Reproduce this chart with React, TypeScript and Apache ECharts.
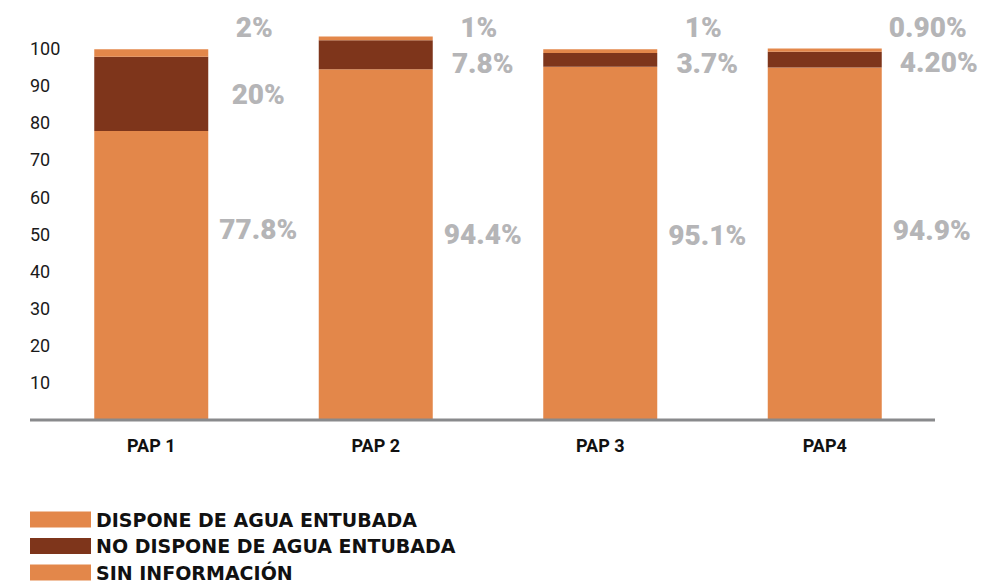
import React, { useEffect, useRef } from "react";
import * as echarts from "echarts";

const categories = ["PAP 1", "PAP 2", "PAP 3", "PAP4"];
const seriesNames = [
  "DISPONE DE AGUA ENTUBADA",
  "NO DISPONE DE AGUA ENTUBADA",
  "SIN INFORMACIÓN",
];
const dispone = [77.8, 94.4, 95.1, 94.9];
const noDispone = [20, 7.8, 3.7, 4.2];
const sinInfo = [2, 1, 1, 0.9];
const disponeText = ["77.8%", "94.4%", "95.1%", "94.9%"];
const noDisponeText = ["20%", "7.8%", "3.7%", "4.20%"];
const sinInfoText = ["2%", "1%", "1%", "0.90%"];
const yTicks = [0, 10, 20, 30, 40, 50, 60, 70, 80, 90, 100];

// label placement (styling, kept separate from the data)
const disponeLabelOffset = [[107, -46], [107, -10], [107, -8], [107, -13]];
const noDisponeLabelOffset = [[107, 1], [107, 9], [107, 4], [114, 3]];
const sinInfoLabelOffset = [[103, -25], [103, -11], [103, -24], [103, -23]];
const legendTops = [510, 536.5, 563];

const ORANGE = "#E3874A";
const BROWN = "#7E351B";
const LABEL_GRAY = "#b5b5b7";

export default function App() {
  const ref = useRef<HTMLDivElement>(null);
  useEffect(() => {
    if (!ref.current) return;
    const chart = echarts.init(ref.current, null, { renderer: "svg" });
    const mk = (
      name: string,
      values: number[],
      texts: string[],
      offsets: number[][],
      color: string
    ) => ({
      name,
      type: "bar",
      stack: "total",
      barWidth: 114,
      clip: false,
      itemStyle: { color },
      data: values.map((v, i) => ({
        value: v,
        label: {
          show: true,
          position: "inside",
          offset: offsets[i],
          formatter: texts[i],
          color: LABEL_GRAY,
          fontFamily: "Roboto",
          fontWeight: 900,
          fontSize: 28,
        },
      })),
    });
    chart.setOption({
      animation: false,
      grid: { left: 39, right: 52, top: 48.5, bottom: 163, containLabel: false },
      legend: seriesNames.map((n, i) => ({
        orient: "vertical",
        left: 30,
        top: legendTops[i],
        padding: 0,
        itemWidth: 61,
        itemHeight: 16,
        icon: "rect",
        data: [n],
        textStyle: {
          fontFamily: "DejaVu Sans",
          fontWeight: "bold",
          fontSize: 19,
          color: "#111",
          lineHeight: 17,
        },
      })),
      xAxis: {
        type: "category",
        data: categories,
        axisLine: { show: false },
        axisTick: { show: false },
        axisLabel: {
          margin: 16,
          color: "#111",
          fontFamily: "Roboto",
          fontWeight: "bold",
          fontSize: 18,
        },
      },
      yAxis: {
        type: "value",
        min: yTicks[0],
        max: yTicks[yTicks.length - 1],
        interval: 10,
        splitLine: { show: false },
        axisLine: { show: false },
        axisTick: { show: false },
        axisLabel: {
          align: "left",
          margin: 9,
          color: "#1a1a1a",
          fontFamily: "Roboto",
          fontSize: 18,
          formatter: (v: number) => (v === 0 ? "" : String(v)),
        },
      },
      graphic: [
        {
          type: "line",
          z: 100,
          shape: { x1: 30, y1: 420, x2: 935, y2: 420 },
          style: { stroke: "#898a8c", lineWidth: 3 },
        },
      ],
      series: [
        mk(seriesNames[0], dispone, disponeText, disponeLabelOffset, ORANGE),
        mk(seriesNames[1], noDispone, noDisponeText, noDisponeLabelOffset, BROWN),
        mk(seriesNames[2], sinInfo, sinInfoText, sinInfoLabelOffset, ORANGE),
      ],
    });
    return () => chart.dispose();
  }, []);
  return (
    <div
      ref={ref}
      style={{ position: "absolute", left: 0, top: 0, width: 989, height: 583 }}
    />
  );
}
